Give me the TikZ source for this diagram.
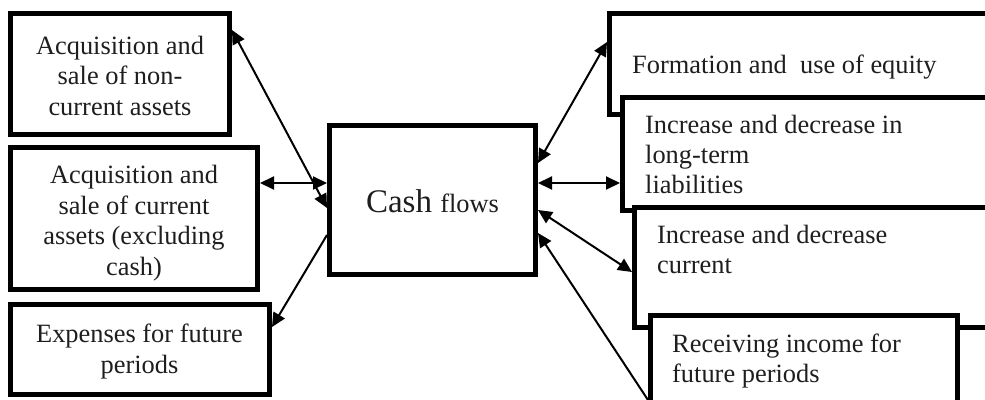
\documentclass[tikz,border=0pt]{standalone}
\usepackage{fontspec}
\setmainfont{Liberation Serif}
\usetikzlibrary{arrows.meta}
\definecolor{ink}{RGB}{30,30,30}
\begin{document}
\begin{tikzpicture}[x=1pt,y=-1pt,
  box/.style={draw=black, line width=5pt, fill=white, inner sep=0pt, outer sep=2.5pt},
  txt/.style={font=\fontsize{26.4}{30.5}\selectfont, text=ink, inner sep=0pt, align=center},
  ltxt/.style={font=\fontsize{26.4}{30}\selectfont, text=ink, inner sep=0pt, align=left, anchor=base west},
  tip/.tip={Triangle[length=14pt,width=13pt]},
  link/.style={line width=2pt, draw=black},
]
\clip (0,0) rectangle (985,399);
\fill[white] (0,0) rectangle (985,399);
% left boxes
\node[box, minimum width=219pt, minimum height=121pt] (b1) at (120,74) {};
\node[box, minimum width=247pt, minimum height=142pt] (b2) at (134,218.5) {};
\node[box, minimum width=259pt, minimum height=90pt] (b3) at (140,349.5) {};
% centre
\node[box, minimum width=206pt, minimum height=149pt] (c) at (432.5,200) {};
% right boxes
\node[box, minimum width=390.5pt, minimum height=101pt] (r1) at (804.75,64) {};
\node[box, minimum width=377.5pt, minimum height=113pt] (r2) at (811.25,154) {};
\node[box, minimum width=365.5pt, minimum height=120pt] (r3) at (817.25,267.5) {};
\node[box, minimum width=307pt, minimum height=104.5pt] (r4) at (804,367.75) {};
% texts (anchor base = baseline of the last line)
\node[txt, anchor=base] (t1) at (120,115) {Acquisition and\\ sale of non-\\ current assets};
\node[txt, anchor=base] (t2) at (134,275) {Acquisition and\\ sale of current\\ assets (excluding\\ cash)};
\node[txt, anchor=base] (t3) at (139.5,373.3) {Expenses for future\\ periods};
\node[inner sep=0pt, anchor=base, text=ink] (tc) at (432.5,212) {\fontsize{33}{36}\selectfont Cash \fontsize{26.4}{30}\selectfont flows};
\node[ltxt] (tr1) at (632,73) {Formation and\ \ use of equity};
\node[ltxt] (tr2) at (645,193) {Increase and decrease in\\ long-term\\ liabilities};
\node[ltxt] (tr3) at (657,273) {Increase and decrease\\ current};
\node[ltxt] (tr4) at (672,382) {Receiving income for\\ future periods};
% connectors
\draw[link, tip-tip] (b1.east |- 0,30) -- (c.west |- 0,208);
\draw[link, tip-tip] (b2.east |- 0,183) -- (c.west |- 0,183);
\draw[link, -tip] (c.west |- 0,235) -- (b3.east |- 0,327);
\draw[link, tip-tip] (c.east |- 0,163) -- (r1.west |- 0,42);
\draw[link, tip-tip] (c.east |- 0,183) -- (r2.west |- 0,183);
\draw[link, tip-tip] (c.east |- 0,210) -- (r3.west |- 0,272);
\draw[link, -tip] (r4.west |- 0,400) -- (c.east |- 0,233);
\end{tikzpicture}
\end{document}
